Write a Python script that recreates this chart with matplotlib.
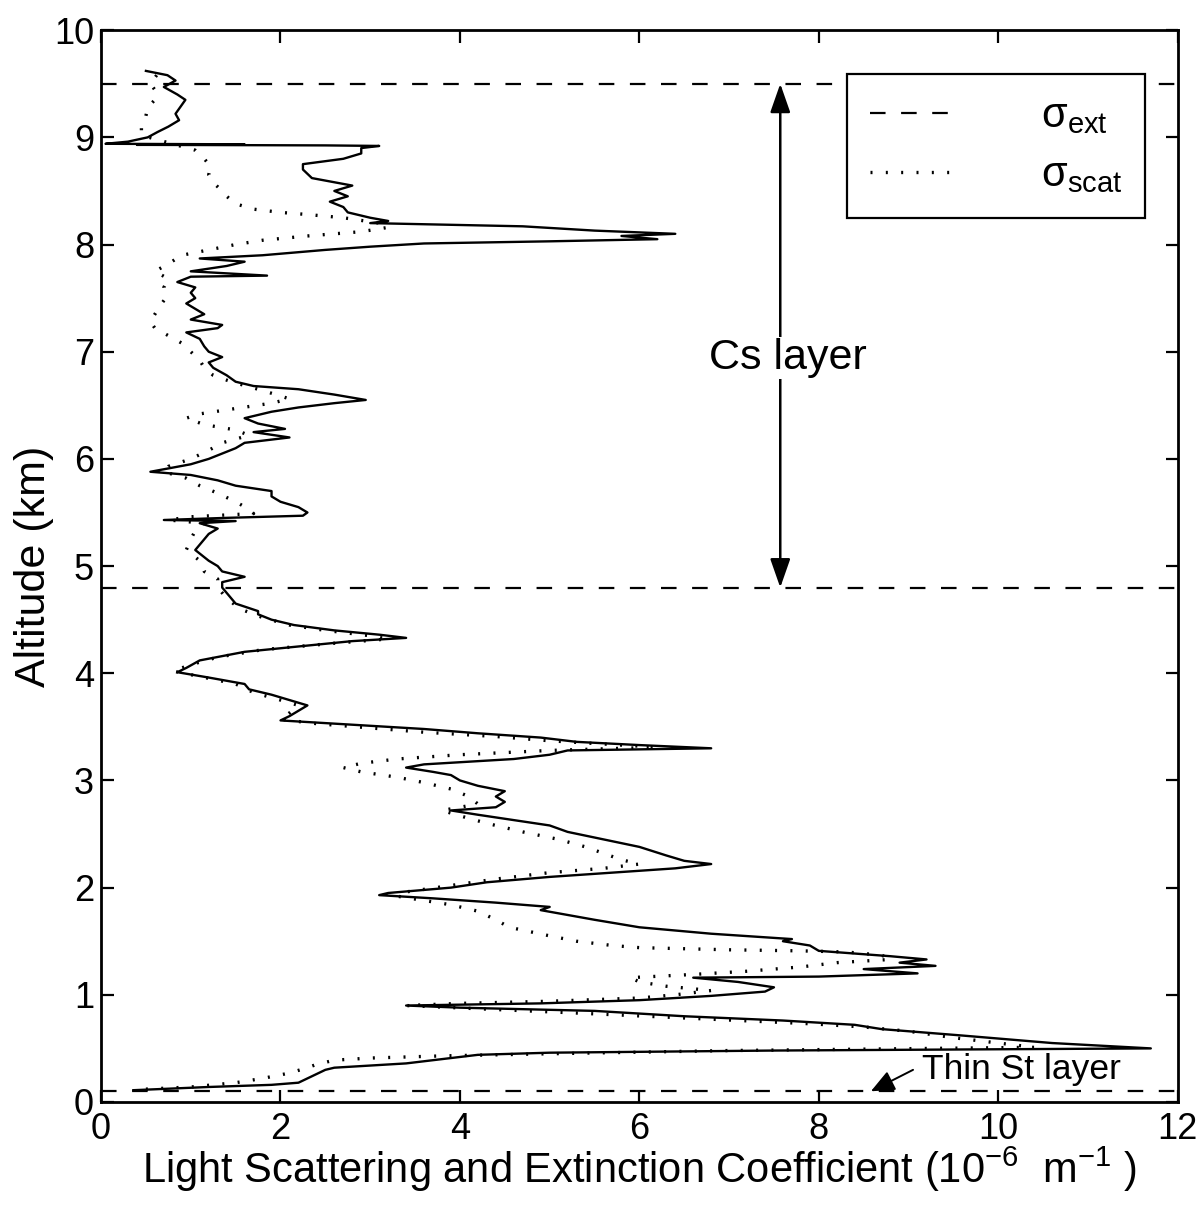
import matplotlib
matplotlib.use("Agg")
import matplotlib.pyplot as plt
from matplotlib.lines import Line2D
from matplotlib.patches import ArrowStyle

plt.rcParams['font.family'] = ['Liberation Sans', 'DejaVu Sans']
plt.rcParams['mathtext.fontset'] = 'custom'
plt.rcParams['mathtext.rm'] = 'Liberation Sans'
plt.rcParams['mathtext.it'] = 'Liberation Sans'

## extinction coefficient profile (10^-6 m^-1) vs altitude (km), read top -> bottom
ext_alt = [9.62, 9.58, 9.53, 9.47, 9.40, 9.35, 9.28, 9.22, 9.16, 9.10, 9.05, 9.00,
           8.96, 8.94, 8.935, 8.93, 8.925, 8.92, 8.90, 8.85, 8.80, 8.75, 8.70, 8.62,
           8.55, 8.50, 8.45, 8.40, 8.35, 8.30, 8.25, 8.22, 8.20, 8.17, 8.13, 8.10,
           8.08, 8.05, 8.03, 8.01, 7.98, 7.95, 7.90, 7.87, 7.84, 7.80, 7.75, 7.71,
           7.70, 7.65, 7.60, 7.55, 7.50, 7.45, 7.40, 7.35, 7.30, 7.25, 7.22, 7.18,
           7.12, 7.05, 7.00, 6.95, 6.90, 6.85, 6.78, 6.72, 6.68, 6.65, 6.60, 6.55,
           6.52, 6.48, 6.44, 6.38, 6.33, 6.28, 6.25, 6.20, 6.15, 6.10, 6.05, 6.00,
           5.95, 5.88, 5.85, 5.80, 5.75, 5.70, 5.65, 5.60, 5.55, 5.50, 5.47, 5.45,
           5.43, 5.42, 5.40, 5.35, 5.30, 5.25, 5.15, 5.05, 5.00, 4.95, 4.90, 4.85,
           4.80, 4.75, 4.65, 4.58, 4.55, 4.50, 4.45, 4.40, 4.36, 4.33, 4.30, 4.25,
           4.20, 4.12, 4.05, 4.01, 3.96, 3.90, 3.85, 3.80, 3.75, 3.70, 3.65, 3.60,
           3.56, 3.52, 3.48, 3.44, 3.40, 3.36, 3.33, 3.30, 3.28, 3.24, 3.20, 3.15,
           3.12, 3.08, 3.05, 3.00, 2.95, 2.90, 2.85, 2.80, 2.75, 2.72, 2.68, 2.63,
           2.58, 2.52, 2.45, 2.38, 2.30, 2.25, 2.22, 2.18, 2.14, 2.10, 2.05, 2.00,
           1.95, 1.93, 1.90, 1.86, 1.82, 1.79, 1.76, 1.70, 1.63, 1.57, 1.52, 1.50,
           1.46, 1.41, 1.36, 1.33, 1.30, 1.27, 1.24, 1.20, 1.17, 1.16, 1.12, 1.07,
           1.03, 0.99, 0.95, 0.92, 0.90, 0.88, 0.85, 0.80, 0.76, 0.72, 0.68, 0.62,
           0.55, 0.50, 0.48, 0.46, 0.44, 0.40, 0.36, 0.32, 0.30, 0.26, 0.22, 0.18,
           0.16, 0.14, 0.11]
ext_val = [0.50, 0.74, 0.83, 0.70, 0.85, 0.94, 0.88, 0.83, 0.87, 0.75, 0.63, 0.52,
           0.30, 0.05, 1.6, 0.4, 2.5, 3.1, 2.9, 2.9, 2.7, 2.25, 2.25, 2.35,
           2.8, 2.6, 2.75, 2.55, 2.7, 2.75, 3.0, 3.2, 3.0, 4.7, 5.5, 6.4,
           5.8, 6.2, 5.0, 3.6, 3.0, 2.5, 1.8, 1.1, 1.6, 1.4, 1.0, 1.85,
           1.0, 0.85, 1.05, 1.0, 1.05, 0.95, 1.05, 1.15, 1.0, 1.35, 1.3, 0.95,
           1.1, 1.15, 1.2, 1.35, 1.2, 1.25, 1.4, 1.5, 1.7, 2.2, 2.6, 2.95,
           2.6, 2.2, 1.9, 1.6, 1.75, 2.05, 1.7, 2.1, 1.6, 1.5, 1.35, 1.2,
           1.0, 0.55, 1.0, 1.3, 1.5, 1.9, 1.9, 2.0, 2.2, 2.3, 2.25, 1.4,
           0.7, 1.5, 1.1, 1.3, 1.2, 1.15, 1.05, 1.2, 1.3, 1.35, 1.6, 1.35,
           1.35, 1.4, 1.5, 1.75, 1.75, 1.9, 2.15, 2.6, 3.1, 3.4, 2.8, 2.2,
           1.6, 1.1, 0.95, 0.85, 1.2, 1.6, 1.65, 1.9, 2.1, 2.3, 2.2, 2.1,
           2.0, 2.8, 3.6, 4.2, 4.9, 5.3, 6.0, 6.8, 5.2, 5.0, 4.6, 3.6,
           3.4, 3.7, 3.9, 4.0, 4.2, 4.5, 4.4, 4.5, 4.4, 3.9, 4.2, 4.6,
           5.0, 5.2, 5.6, 6.0, 6.3, 6.5, 6.8, 6.4, 5.7, 5.0, 4.3, 3.9,
           3.2, 3.1, 3.7, 4.4, 5.0, 4.9, 5.1, 5.5, 6.0, 6.8, 7.7, 7.6,
           7.9, 8.0, 8.8, 9.2, 8.9, 9.3, 8.5, 9.1, 8.0, 6.6, 7.1, 7.5,
           7.4, 6.8, 6.0, 4.9, 3.4, 4.0, 5.5, 6.5, 7.6, 8.4, 8.7, 9.6,
           10.6, 11.7, 7.5, 5.0, 4.2, 3.8, 3.4, 2.6, 2.5, 2.4, 2.3, 2.2,
           1.9, 1.2, 0.36]

## scattering coefficient profile
scat_alt = [9.58, 9.50, 9.42, 9.35, 9.28, 9.20, 9.10, 9.02, 8.95, 8.88, 8.80, 8.73,
            8.65, 8.57, 8.50, 8.45, 8.38, 8.33, 8.30, 8.28, 8.25, 8.20, 8.16, 8.12,
            8.08, 8.04, 8.00, 7.95, 7.90, 7.82, 7.75, 7.68, 7.60, 7.50, 7.42, 7.35,
            7.28, 7.22, 7.15, 7.08, 7.00, 6.92, 6.85, 6.78, 6.72, 6.65, 6.60, 6.56,
            6.52, 6.47, 6.42, 6.38, 6.32, 6.27, 6.22, 6.15, 6.08, 6.00, 5.93, 5.88,
            5.82, 5.75, 5.68, 5.60, 5.53, 5.49, 5.46, 5.43, 5.40, 5.33, 5.25, 5.15,
            5.05, 4.95, 4.88, 4.80, 4.70, 4.60, 4.52, 4.45, 4.40, 4.35, 4.32, 4.28,
            4.22, 4.15, 4.08, 4.02, 3.97, 3.90, 3.82, 3.75, 3.70, 3.63, 3.57, 3.53,
            3.49, 3.45, 3.41, 3.37, 3.34, 3.31, 3.28, 3.24, 3.20, 3.16, 3.12, 3.08,
            3.03, 2.98, 2.92, 2.85, 2.78, 2.72, 2.67, 2.60, 2.52, 2.45, 2.38, 2.32,
            2.26, 2.22, 2.18, 2.14, 2.08, 2.02, 1.96, 1.92, 1.88, 1.84, 1.78, 1.70,
            1.63, 1.55, 1.50, 1.46, 1.44, 1.42, 1.41, 1.40, 1.37, 1.33, 1.30, 1.26,
            1.22, 1.19, 1.16, 1.12, 1.08, 1.04, 1.00, 0.97, 0.94, 0.92, 0.90, 0.87,
            0.83, 0.78, 0.73, 0.70, 0.66, 0.60, 0.55, 0.51, 0.48, 0.45, 0.43, 0.41,
            0.39, 0.35, 0.32, 0.27, 0.22, 0.18, 0.14, 0.12]
scat_val = [0.62, 0.55, 0.62, 0.60, 0.52, 0.50, 0.45, 0.45, 0.75, 1.05, 1.15, 1.22,
            1.2, 1.26, 1.35, 1.4, 1.5, 1.7, 2.0, 2.3, 2.7, 3.1, 3.2, 2.9,
            2.3, 1.8, 1.5, 1.2, 0.9, 0.75, 0.6, 0.75, 0.7, 0.72, 0.65, 0.6,
            0.55, 0.6, 0.75, 0.9, 1.0, 1.1, 1.15, 1.25, 1.45, 1.75, 1.95, 2.1,
            1.9, 1.5, 1.1, 0.95, 1.15, 1.5, 1.65, 1.35, 1.2, 1.0, 0.75, 0.7,
            0.95, 1.1, 1.3, 1.5, 1.65, 1.7, 1.0, 0.75, 1.15, 1.05, 1.0, 0.95,
            1.1, 1.15, 1.3, 1.3, 1.4, 1.55, 1.8, 2.1, 2.5, 3.0, 3.2, 2.6,
            1.8, 1.3, 1.0, 0.8, 1.1, 1.5, 1.7, 2.0, 2.2, 2.1, 2.0, 2.4,
            3.0, 3.6, 4.4, 5.0, 5.6, 6.2, 5.0, 4.0, 3.3, 2.9, 2.7, 2.9,
            3.3, 3.6, 3.9, 4.1, 4.2, 3.8, 4.0, 4.3, 4.7, 5.1, 5.4, 5.6,
            5.8, 6.0, 5.6, 5.0, 4.4, 3.9, 3.4, 3.3, 3.6, 3.9, 4.2, 4.4,
            4.55, 5.0, 5.3, 5.7, 6.0, 7.0, 7.8, 8.3, 8.7, 8.8, 8.2, 7.8,
            7.2, 6.6, 5.9, 6.0, 6.3, 6.8, 6.4, 6.0, 5.0, 4.0, 3.4, 4.2,
            5.3, 6.6, 7.9, 8.5, 9.0, 9.5, 10.0, 10.4, 7.0, 5.0, 3.8, 3.0,
            2.6, 2.4, 2.3, 2.1, 1.8, 1.5, 1.0, 0.5]

layer_bounds = [9.5, 4.8, 0.1]   # km

fig = plt.figure(figsize=(12.03, 12.07), dpi=100)
ax = fig.add_axes([0.084, 0.087, 0.895, 0.888])

ax.plot(ext_val, ext_alt, color='k', lw=1.7)
ax.plot(scat_val, scat_alt, color='k', lw=2.4, ls=(0, (0.6, 4.0)))
for yb in layer_bounds:
    ax.axhline(yb, color='k', lw=1.6, ls=(0, (7, 7)))

## Cs layer arrow + label
ax.annotate('', xy=(7.57, 9.5), xytext=(7.57, 4.8),
            arrowprops=dict(arrowstyle=ArrowStyle('<|-|>', head_length=0.8, head_width=0.28),
                            mutation_scale=22, color='k', lw=1.8, shrinkA=0, shrinkB=0))
ax.text(7.65, 6.94, 'Cs layer', fontsize=31, ha='center', va='center',
        bbox=dict(fc='white', ec='none', pad=1))

## thin St layer
ax.text(9.15, 0.3, 'Thin St layer', fontsize=25.5, va='center', ha='left')
ax.annotate('', xy=(8.58, 0.1), xytext=(9.05, 0.3),
            arrowprops=dict(arrowstyle=ArrowStyle('-|>', head_length=0.8, head_width=0.35),
                            mutation_scale=18, color='k', lw=1.4, shrinkA=0, shrinkB=0))

ax.set_xlim(0, 12)
ax.set_ylim(0, 10)
ax.set_xticks(range(0, 13, 2))
ax.set_yticks(range(0, 11))
ax.tick_params(direction='in', length=9, width=1.6, labelsize=26, top=True, right=True)
ax.tick_params(axis='y', pad=5)
ax.tick_params(axis='x', pad=7)
for s in ax.spines.values():
    s.set_linewidth(2.0)

ax.set_xlabel('Light Scattering and Extinction Coefficient (10$^{-6}$  m$^{-1}$ )', fontsize=30)
ax.xaxis.label.set_va('center')
ax.xaxis.set_label_coords(0.5, -0.063)
ax.set_ylabel('Altitude (km)', fontsize=31)
ax.yaxis.label.set_va('center')
ax.yaxis.set_label_coords(-0.062, 0.5)

handles = [Line2D([], [], color='k', lw=1.6, ls=(0, (7, 7))),
           Line2D([], [], color='k', lw=2.4, ls=(0, (0.6, 4.0)))]
leg = ax.legend(handles, ['σ$_{\\rm ext}$', 'σ$_{\\rm scat}$'], fontsize=30,
                loc='upper left', bbox_to_anchor=(0.704, 0.939), bbox_transform=fig.transFigure,
                borderaxespad=0, handlelength=2.1, handletextpad=2.0, borderpad=0.55,
                labelspacing=0.45, fancybox=False, edgecolor='k', framealpha=1)
leg.get_frame().set_linewidth(1.6)

fig.savefig('out.png', dpi=100)
